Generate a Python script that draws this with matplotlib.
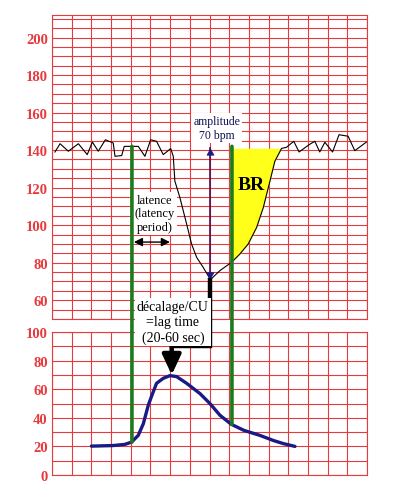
import numpy as np
import matplotlib
matplotlib.use('Agg')
import matplotlib.pyplot as plt

# ---------------- data ----------------
fhr_x = [0.15, 0.41, 0.83, 1.34, 1.79, 2.05, 2.35, 2.71, 3.11, 3.20, 3.54, 3.67, 4.38,
         4.72, 5.01, 5.31, 5.65, 6.03, 6.16, 6.24, 6.50, 6.84, 7.09, 7.35, 7.68, 8.05,
         8.53, 9.12, 9.54, 9.96, 10.39, 10.73, 11.07, 11.32, 11.66, 11.91, 12.28, 12.55,
         13.06, 13.35, 13.60, 13.86, 14.25, 14.58, 15.04, 15.38, 15.97]
fhr_y = [139.0, 143.4, 139.4, 143.4, 137.6, 144.3, 139.4, 145.5, 143.8, 136.7, 137.1, 142.0, 142.0,
         136.7, 145.5, 144.7, 137.6, 140.8, 136.7, 123.5, 114.6, 100.5, 89.9, 82.8, 77.5, 71.0,
         75.8, 80.2, 84.6, 89.9, 98.7, 109.3, 123.5, 134.1, 140.9, 141.5, 144.7, 139.0,
         142.9, 144.7, 139.0, 144.2, 139.0, 148.2, 147.4, 139.7, 144.3]

uc_x = [2.0, 3.1, 3.7, 4.04, 4.38, 4.64, 4.89, 5.11, 5.31, 5.65, 5.99, 6.33, 6.84, 7.51,
        8.02, 8.53, 9.1, 9.75, 10.56, 11.23, 11.74, 12.34]
uc_y = [20.2, 20.6, 21.4, 23.0, 27.7, 35.9, 48.8, 57.0, 64.1, 67.6, 69.5, 68.8, 64.1, 57.0,
        50.0, 41.8, 35.5, 31.2, 27.7, 24.2, 22.0, 20.0]

fhr_ticks = [60, 80, 100, 120, 140, 160, 180, 200]
uc_ticks = [0, 20, 40, 60, 80, 100]

green_x = [4.06, 9.14]
green_top = [142, 142]
green_bottom = [23.0, 35.5]

amp_x = 8.05
amp_top = 141
amp_bottom = 71
baseline = 141
br_end = 11.7

lat_x0, lat_x1, lat_y = 4.16, 5.99, 91
peak_x, peak_y = 6.08, 70
elbow_y = 90

# ---------------- style ----------------
RED = '#e63a3e'
GREEN = '#1d7a1d'
NAVY = '#1a1a86'
PURPLE = '#5a0a4a'
SERIF = 'Liberation Serif'

fig = plt.figure(figsize=(3.97, 4.85), dpi=100)
ax_top = fig.add_axes([52/397, 1-320/485, 315/397, 304/485])
ax_bot = fig.add_axes([52/397, 1-476/485, 315/397, 143/485])


def style(ax, ylim, ticks, minor_step):
    ax.set_xlim(0, 16)
    ax.set_ylim(*ylim)
    ax.set_xticks(np.arange(0, 17, 1))
    ax.set_yticks(ticks)
    ax.set_yticks(np.arange(0, 216, minor_step), minor=True)
    ax.set_ylim(*ylim)
    ax.set_axisbelow(True)
    ax.grid(which='both', color=RED, lw=0.8)
    ax.tick_params(which='both', length=0, labelbottom=False, pad=3)
    for lab in ax.get_yticklabels():
        lab.set_fontfamily(SERIF)
        lab.set_fontweight('bold')
        lab.set_color(RED)
        lab.set_fontsize(10.5)
    for s in ax.spines.values():
        s.set_color(RED)
        s.set_linewidth(0.8)


style(ax_top, (50, 212), fhr_ticks, 5)
style(ax_bot, (0, 100), uc_ticks, 10)

# yellow BR area
xs = np.linspace(green_x[1], br_end, 300)
ys = np.interp(xs, fhr_x, fhr_y)
ax_top.fill_between(xs, ys, baseline, where=ys <= baseline, color='#ffff1a',
                    lw=0, zorder=1)

# FHR trace
ax_top.plot(fhr_x, fhr_y, color='black', lw=0.8, zorder=4)

# UC curve
ax_bot.plot(uc_x, uc_y, color=NAVY, lw=2.4, zorder=4, solid_capstyle='round')

# green vertical lines spanning both panels
from matplotlib.patches import ConnectionPatch
for gx, gt, gb in zip(green_x, green_top, green_bottom):
    cp = ConnectionPatch(xyA=(gx, gt), coordsA=ax_top.transData,
                         xyB=(gx, gb), coordsB=ax_bot.transData,
                         color=GREEN, lw=2.6, zorder=3)
    fig.add_artist(cp)

# amplitude arrow
ax_top.plot([amp_x, amp_x], [amp_top, amp_bottom], color=PURPLE, lw=1.2, zorder=5)
for y0, y1 in [(amp_top - 4, amp_top), (amp_bottom + 4, amp_bottom)]:
    ax_top.annotate('', xy=(amp_x, y1), xytext=(amp_x, y0),
                    arrowprops=dict(arrowstyle='-|>,head_length=0.45,head_width=0.25',
                                    color=NAVY, lw=0.5, shrinkA=0, shrinkB=0,
                                    mutation_scale=10), zorder=6)

# latency double arrow
ax_top.annotate('', xy=(lat_x1, lat_y), xytext=(lat_x0, lat_y),
                arrowprops=dict(arrowstyle='<|-|>,head_length=0.5,head_width=0.25',
                                color='black', lw=1.0, shrinkA=0, shrinkB=0,
                                mutation_scale=10), zorder=6)

# black lag-time arrow
top_pt = ax_bot.transData.inverted().transform(ax_top.transData.transform((amp_x, amp_bottom)))
ax_bot.plot([amp_x, amp_x, peak_x], [top_pt[1], elbow_y, elbow_y], color='black',
            lw=3.2, clip_on=False, zorder=6, solid_joinstyle='miter')
ax_bot.annotate('', xy=(peak_x, peak_y), xytext=(peak_x, elbow_y + 1),
                arrowprops=dict(arrowstyle='-|>,head_length=0.6,head_width=0.28',
                                color='black', lw=3.2, shrinkA=0, shrinkB=0,
                                mutation_scale=20), zorder=6, annotation_clip=False)

# texts
box = dict(facecolor='white', edgecolor='none', pad=1.5)
ax_top.text(8.36, 151.8, 'amplitude\n70 bpm', ha='center', va='center',
            fontsize=8.5, family=SERIF, color='#101050', bbox=box, zorder=7,
            linespacing=1.15)
ax_top.text(5.23, 106.3, 'latence\n(latency\nperiod)', ha='center', va='center',
            fontsize=9, family=SERIF, color='black', bbox=box, zorder=7,
            linespacing=1.15)
ax_top.text(10.14, 121.7, 'BR', ha='center', va='center', fontsize=14,
            family=SERIF, fontweight='bold', color='black', zorder=7)
ax_bot.text(6.14, 107, 'décalage/CU\n=lag time\n(20-60 sec)', ha='center', va='center',
            fontsize=10, family=SERIF, color='black', bbox=box, zorder=7,
            linespacing=1.2, clip_on=False)

fig.savefig('out.png', dpi=100)
